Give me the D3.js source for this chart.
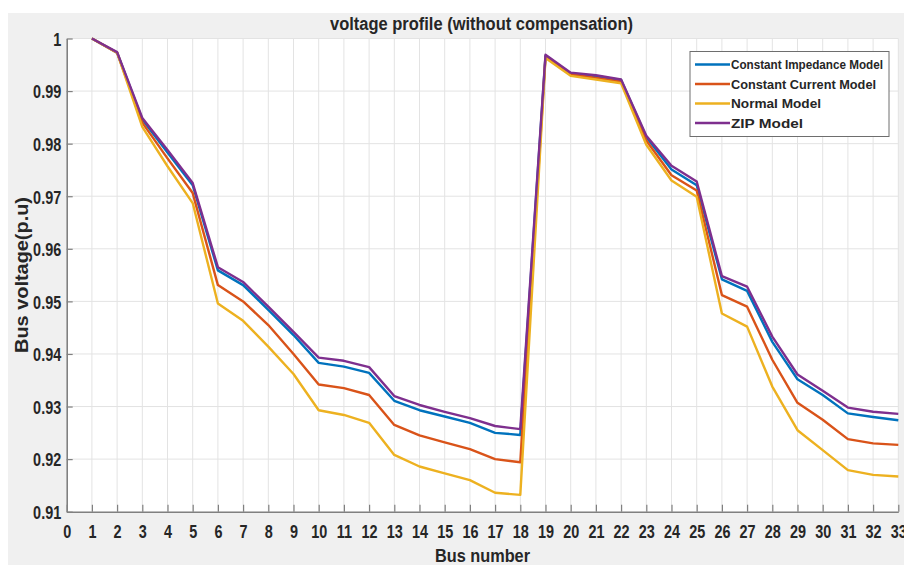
<!DOCTYPE html>
<html>
<head>
<meta charset="utf-8">
<script src="https://cdn.jsdelivr.net/npm/d3@7"></script>
<style>
  html, body { margin: 0; padding: 0; background: #ffffff; }
  svg { display: block; }
  text { font-family: "Liberation Sans", Arial, sans-serif; font-weight: bold; fill: #262626; }
</style>
</head>
<body>
<svg id="chart" width="904" height="565"></svg>
<script>
// ---------- data ----------
const buses = d3.range(1, 34);
const constantImpedance = [1.0000, 0.9973, 0.9846, 0.9783, 0.9721, 0.9559, 0.9531, 0.9484, 0.9436, 0.9383,
  0.9376, 0.9364, 0.9311, 0.9293, 0.9281, 0.9269, 0.9250, 0.9246, 0.9967, 0.9933, 0.9928, 0.9921,
  0.9812, 0.9751, 0.9721, 0.9542, 0.9520, 0.9423, 0.9352, 0.9322, 0.9287, 0.9280, 0.9274];
const constantCurrent = [1.0000, 0.9973, 0.9840, 0.9772, 0.9706, 0.9531, 0.9500, 0.9455, 0.9400, 0.9342,
  0.9335, 0.9322, 0.9265, 0.9245, 0.9232, 0.9219, 0.9200, 0.9194, 0.9965, 0.9932, 0.9925, 0.9918,
  0.9806, 0.9740, 0.9711, 0.9512, 0.9490, 0.9389, 0.9307, 0.9275, 0.9238, 0.9230, 0.9227];
const normalModel = [1.0000, 0.9973, 0.9832, 0.9757, 0.9687, 0.9496, 0.9463, 0.9414, 0.9362, 0.9293,
  0.9284, 0.9269, 0.9208, 0.9186, 0.9173, 0.9160, 0.9136, 0.9132, 0.9963, 0.9929, 0.9922, 0.9915,
  0.9798, 0.9730, 0.9699, 0.9477, 0.9452, 0.9338, 0.9255, 0.9217, 0.9179, 0.9170, 0.9167];
const zipModel = [1.0000, 0.9974, 0.9849, 0.9788, 0.9725, 0.9565, 0.9537, 0.9490, 0.9442, 0.9393,
  0.9387, 0.9375, 0.9320, 0.9303, 0.9290, 0.9278, 0.9263, 0.9257, 0.9969, 0.9935, 0.9930, 0.9922,
  0.9815, 0.9758, 0.9728, 0.9548, 0.9528, 0.9433, 0.9361, 0.9330, 0.9298, 0.9290, 0.9286];
const seriesNames = ["Constant Impedance Model", "Constant Current Model", "Normal Model", "ZIP Model"];
const seriesColors = ["#0072BD", "#D95319", "#EDB120", "#7E2F8E"];
const xTicks = d3.range(0, 34);
const yTicks = [0.91, 0.92, 0.93, 0.94, 0.95, 0.96, 0.97, 0.98, 0.99, 1];
const titleText = "voltage profile (without compensation)";
const xLabel = "Bus number";
const yLabel = "Bus voltage(p.u)";

const allSeries = [constantImpedance, constantCurrent, normalModel, zipModel];

// ---------- layout ----------
const svg = d3.select("#chart");
const pLeft = 66.7, pRight = 898.3, pTop = 38.5, pBottom = 511.7;
const SX = 0.76; // horizontal squash of the source text

svg.append("rect").attr("x", 8).attr("y", 13).attr("width", 904 - 8).attr("height", 565 - 13)
  .attr("fill", "#f0f0f0");
svg.append("rect").attr("x", pLeft).attr("y", pTop).attr("width", pRight - pLeft).attr("height", pBottom - pTop)
  .attr("fill", "#ffffff");

const x = d3.scaleLinear().domain([0, 33]).range([pLeft, pRight]);
const y = d3.scaleLinear().domain([0.91, 1]).range([pBottom, pTop]);

// grid
const grid = svg.append("g");
grid.selectAll(".gx").data(xTicks.slice(1)).join("line")
  .attr("x1", d => x(d)).attr("x2", d => x(d)).attr("y1", pTop).attr("y2", pBottom)
  .attr("stroke", "#e3e3e3").attr("stroke-width", 1);
grid.selectAll(".gy").data(yTicks.slice(1)).join("line")
  .attr("x1", pLeft).attr("x2", pRight).attr("y1", d => y(d)).attr("y2", d => y(d))
  .attr("stroke", "#e3e3e3").attr("stroke-width", 1);

// axes
const xAxis = svg.append("g").attr("transform", `translate(0,${pBottom})`)
  .call(d3.axisBottom(x).tickValues(xTicks).tickFormat(d3.format("d")).tickSizeInner(-7).tickSizeOuter(0).tickPadding(0));
const yAxis = svg.append("g").attr("transform", `translate(${pLeft},0)`)
  .call(d3.axisLeft(y).tickValues(yTicks).tickFormat(d => d === 1 ? "1" : d3.format(".2f")(d)).tickSizeInner(-6).tickSizeOuter(0).tickPadding(0));

[xAxis, yAxis].forEach(a => {
  a.select(".domain").attr("stroke", "#808080").attr("stroke-width", 1.6);
  a.selectAll(".tick line").attr("stroke", "#808080").attr("stroke-width", 1.2);
  a.selectAll(".tick text").attr("fill", "#262626").attr("font-size", 19)
    .attr("font-family", "'Liberation Sans', Arial, sans-serif").attr("font-weight", "bold");
});
xAxis.selectAll(".tick text").attr("y", 0).attr("dy", 0)
  .attr("transform", `translate(0,26.5) scale(${SX},1)`);
yAxis.selectAll(".tick text").attr("x", 0).attr("dy", 0)
  .attr("transform", `translate(-5.5,6.8) scale(${SX},1)`);

// lines
const line = d3.line().x((d, i) => x(buses[i])).y(d => y(d));
svg.append("g").selectAll("path").data(allSeries).join("path")
  .attr("d", d => line(d)).attr("fill", "none")
  .attr("stroke", (d, i) => seriesColors[i]).attr("stroke-width", 2.4)
  .attr("stroke-linejoin", "round");

// title and labels
svg.append("text").attr("x", 481.5).attr("y", 30).attr("text-anchor", "middle")
  .attr("font-size", 18).attr("textLength", 303).attr("lengthAdjust", "spacingAndGlyphs")
  .text(titleText);
svg.append("text").attr("x", 482.5).attr("y", 562).attr("text-anchor", "middle")
  .attr("font-size", 19).attr("textLength", 95).attr("lengthAdjust", "spacingAndGlyphs")
  .text(xLabel);
svg.append("text").attr("transform", "translate(27.5,275) rotate(-90)").attr("text-anchor", "middle")
  .attr("font-size", 19).attr("textLength", 156).attr("lengthAdjust", "spacingAndGlyphs")
  .text(yLabel);

// legend
const lg = svg.append("g");
lg.append("rect").attr("x", 690).attr("y", 51.5).attr("width", 199).attr("height", 85)
  .attr("fill", "#ffffff").attr("stroke", "#6e6e6e").attr("stroke-width", 1);
const rowsY = [64.5, 84, 103.5, 123];
const legendWidths = [152, 145, 90, 72];
seriesNames.forEach((name, i) => {
  lg.append("line").attr("x1", 695).attr("x2", 730).attr("y1", rowsY[i]).attr("y2", rowsY[i])
    .attr("stroke", seriesColors[i]).attr("stroke-width", 2.4);
  lg.append("text").attr("x", 731).attr("y", rowsY[i] + 4.5).attr("font-size", 12.5)
    .attr("textLength", legendWidths[i]).attr("lengthAdjust", "spacingAndGlyphs")
    .text(name);
});
</script>
</body>
</html>
